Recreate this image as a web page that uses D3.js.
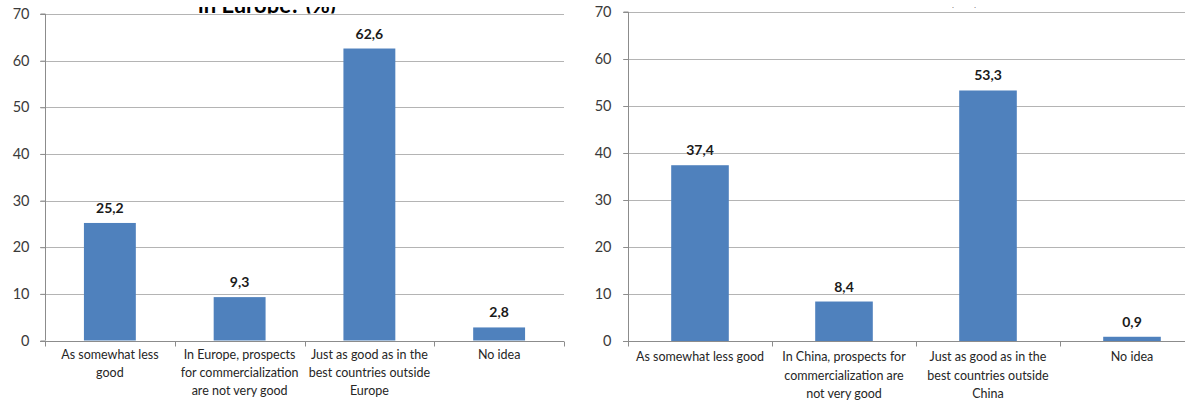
<!DOCTYPE html>
<html>
<head>
<meta charset="utf-8">
<script src="https://cdn.jsdelivr.net/npm/d3@7"></script>
<style>
  html, body { margin: 0; padding: 0; background: #fff; }
  svg { display: block; font-family: Lato, "Open Sans", sans-serif; }
</style>
</head>
<body>
<svg id="chart" width="1185" height="401"></svg>
<script>
// ---- data ----
const categoriesEurope = [
  "As somewhat less\ngood",
  "In Europe, prospects\nfor commercialization\nare not very good",
  "Just as good as in the\nbest countries outside\nEurope",
  "No idea"
];
const valuesEurope = [25.2, 9.3, 62.6, 2.8];

const categoriesChina = [
  "As somewhat less good",
  "In China, prospects for\ncommercialization are\nnot very good",
  "Just as good as in the\nbest countries outside\nChina",
  "No idea"
];
const valuesChina = [37.4, 8.4, 53.3, 0.9];

const yTickValues = [0, 10, 20, 30, 40, 50, 60, 70];
const titleEurope = "in Europe? (%)";
const titleChina = "in China? (%)";

// ---- drawing ----
const svg = d3.select("#chart");
const fmt = d3.formatLocale({decimal: ",", thousands: ".", grouping: [3], currency: ["", ""]}).format(".1f");

const BAR = "#4F81BD";
const GRID = "#B4B4B4";
const AXIS = "#8C8C8C";

function panel(cfg, idx) {
  const g = svg.append("g");
  const x = d3.scaleBand().domain(cfg.categories).range(cfg.xRange).padding(0);
  const y = d3.scaleLinear().domain([0, 70]).range(cfg.yRange);

  // title (mostly cropped above the picture in the reference)
  const clipId = "clip" + idx;
  svg.append("clipPath").attr("id", clipId)
    .append("rect").attr("x", 0).attr("y", cfg.titleClip[0])
    .attr("width", 1185).attr("height", cfg.titleClip[1] - cfg.titleClip[0]);
  g.append("text")
    .attr("clip-path", `url(#${clipId})`)
    .attr("x", cfg.titleX).attr("y", cfg.titleY)
    .attr("text-anchor", cfg.titleAnchor)
    .attr("font-size", 22).attr("font-weight", "bold").attr("fill", "#000")
    .text(cfg.title);

  // gridlines
  g.append("g").selectAll("line").data(yTickValues.filter(d => d > 0)).join("line")
    .attr("x1", cfg.xRange[0] - 5).attr("x2", cfg.gridEnd)
    .attr("y1", d => Math.round(y(d)) + 0.5).attr("y2", d => Math.round(y(d)) + 0.5)
    .attr("stroke", GRID).attr("stroke-width", 1);

  // y axis
  const yAxis = g.append("g")
    .attr("transform", `translate(${cfg.xRange[0] + 0.5},0)`)
    .call(d3.axisLeft(y).tickValues(yTickValues).tickSize(5).tickSizeOuter(0).tickPadding(cfg.tickPad));
  yAxis.select(".domain").attr("stroke", AXIS);
  yAxis.selectAll(".tick line").attr("stroke", AXIS);
  yAxis.selectAll(".tick text").attr("font-size", 14.5).attr("fill", "#3a3a3a")
    .attr("font-family", "Lato, sans-serif");
  yAxis.select(".domain").attr("d", `M-5,${cfg.yRange[1]}H0V${cfg.yRange[0]}`);

  // bars
  const bw = x.bandwidth();
  g.append("g").selectAll("rect").data(cfg.values).join("rect")
    .attr("x", (d, i) => x(cfg.categories[i]) + bw * 0.3)
    .attr("width", bw * 0.4)
    .attr("y", d => y(d))
    .attr("height", d => y(0) - y(d))
    .attr("fill", BAR);

  // x axis baseline with boundary ticks
  const y0 = Math.round(y(0)) + 0.5;
  g.append("line").attr("x1", cfg.xRange[0] - 5).attr("x2", cfg.gridEnd)
    .attr("y1", y0).attr("y2", y0).attr("stroke", AXIS);
  const bounds = cfg.categories.map(c => x(c)).concat([cfg.xRange[1]]).filter(v => v <= 1185);
  g.append("g").selectAll("line").data(bounds).join("line")
    .attr("x1", d => Math.round(d) + 0.5).attr("x2", d => Math.round(d) + 0.5)
    .attr("y1", y0).attr("y2", y0 + 5).attr("stroke", AXIS);

  // value labels
  g.append("g").selectAll("text").data(cfg.values).join("text")
    .attr("x", (d, i) => x(cfg.categories[i]) + bw / 2)
    .attr("y", d => y(d) - 10)
    .attr("text-anchor", "middle")
    .attr("font-size", 14).attr("font-weight", "bold").attr("fill", "#1a1a1a")
    .text(d => fmt(d));

  // category labels
  const lbl = g.append("g").selectAll("text").data(cfg.categories).join("text")
    .attr("text-anchor", "middle")
    .attr("font-size", 12.5).attr("fill", "#262626");
  lbl.each(function(c) {
    const t = d3.select(this);
    c.split("\n").forEach((line, k) => {
      t.append("tspan").attr("x", x(c) + bw / 2).attr("y", cfg.labelY + k * cfg.lineH).text(line);
    });
  });
}

panel({
  categories: categoriesEurope, values: valuesEurope,
  xRange: [45, 564], yRange: [340.5, 14], gridEnd: 564, tickPad: 11,
  labelY: 359, lineH: 18,
  title: titleEurope, titleX: 267, titleY: 13, titleAnchor: "middle", titleClip: [7, 13.5]
}, 0);

panel({
  categories: categoriesChina, values: valuesChina,
  xRange: [628, 1204], yRange: [341, 12], gridEnd: 1185, tickPad: 12,
  labelY: 361, lineH: 18.5,
  title: titleChina, titleX: 979, titleY: 4, titleAnchor: "end", titleClip: [7, 10.5]
}, 1);
</script>
</body>
</html>
